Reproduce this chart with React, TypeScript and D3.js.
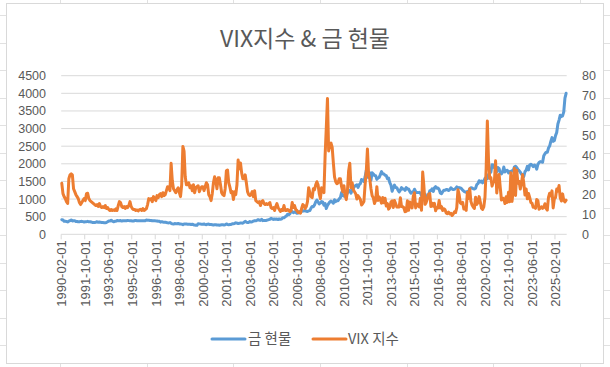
import React from "react";
import * as d3 from "d3";

const xTickLabels = [
  "1990-02-01", "1991-10-01", "1993-06-01", "1995-02-01", "1996-10-01", "1998-06-01",
  "2000-02-01", "2001-10-01", "2003-06-01", "2005-02-01", "2006-10-01", "2008-06-01",
  "2010-02-01", "2011-10-01", "2013-06-01", "2015-02-01", "2016-10-01", "2018-06-01",
  "2020-02-01", "2021-10-01", "2023-06-01", "2025-02-01",
];
const leftTicks = [0, 500, 1000, 1500, 2000, 2500, 3000, 3500, 4000, 4500];
const rightTicks = [0, 10, 20, 30, 40, 50, 60, 70, 80];

// Gold spot (USD/oz), monthly from 1990-02
const gold1990s = [
  415, 407, 368, 368, 363, 352, 372, 387, 408, 380, 385,
  386, 366, 363, 355, 357, 366, 368, 359, 348, 355, 359, 367,
  353, 355, 347, 338, 336, 337, 343, 357, 340, 349, 339, 334,
  332, 330, 330, 337, 355, 377, 378, 401, 372, 355, 369, 372,
  391, 383, 381, 390, 376, 384, 386, 385, 385, 394, 388, 383,
  382, 376, 376, 390, 389, 385, 387, 384, 383, 384, 383, 388,
  387, 405, 400, 398, 392, 391, 382, 385, 387, 380, 379, 372,
  369, 345, 359, 348, 340, 345, 334, 326, 324, 332, 311, 296,
  289, 304, 298, 301, 308, 293, 295, 288, 274, 294, 292, 294,
  288, 286, 287, 280, 286, 272, 261, 255, 255, 300, 296, 290,
];
const gold2000s = [
  288, 283, 293, 278, 274, 288, 289, 276, 278, 273, 265, 271,
  272, 265, 267, 257, 265, 271, 270, 265, 272, 293, 279, 274,
  279, 281, 297, 301, 308, 325, 318, 304, 312, 323, 318, 317,
  343, 367, 347, 334, 337, 363, 347, 354, 375, 385, 385, 398,
  416, 400, 395, 426, 388, 393, 395, 391, 407, 416, 427, 453,
  438, 421, 434, 427, 435, 417, 437, 429, 433, 473, 470, 495,
  517, 568, 556, 582, 654, 642, 613, 632, 624, 599, 603, 646,
  632, 649, 672, 662, 679, 655, 648, 665, 673, 743, 789, 783,
  834, 923, 971, 916, 863, 886, 930, 913, 829, 874, 730, 816,
  869, 919, 942, 916, 883, 980, 928, 955, 955, 1007, 1040, 1183,
];
const gold2010s = [
  1096, 1083, 1118, 1113, 1180, 1215, 1244, 1169, 1250, 1309, 1359, 1385,
  1405, 1332, 1411, 1439, 1556, 1536, 1500, 1628, 1813, 1620, 1724, 1746,
  1531, 1744, 1710, 1668, 1663, 1558, 1598, 1614, 1692, 1777, 1719, 1711,
  1675, 1664, 1578, 1596, 1467, 1394, 1223, 1312, 1395, 1327, 1324, 1250,
  1202, 1251, 1326, 1283, 1288, 1246, 1327, 1282, 1287, 1217, 1164, 1200,
  1200, 1279, 1213, 1183, 1183, 1190, 1172, 1095, 1134, 1114, 1142, 1065,
  1061, 1118, 1234, 1232, 1293, 1215, 1320, 1351, 1309, 1313, 1272, 1173,
  1151, 1210, 1248, 1249, 1268, 1268, 1242, 1269, 1322, 1283, 1270, 1275,
  1303, 1345, 1317, 1325, 1315, 1298, 1253, 1224, 1202, 1191, 1215, 1222,
  1281, 1321, 1313, 1292, 1284, 1305, 1409, 1437, 1520, 1485, 1511, 1461,
];
const gold2020s = [
  1517, 1587, 1609, 1577, 1694, 1730, 1768, 1975, 1967, 1886, 1879, 1776,
  1895, 1863, 1743, 1715, 1769, 1910, 1770, 1812, 1814, 1743, 1785, 1777,
  1806, 1797, 1911, 1932, 1896, 1838, 1806, 1765, 1711, 1665, 1640, 1775,
  1820, 1928, 1827, 1969, 1990, 1962, 1920, 1965, 1939, 1849, 1985, 2038,
  2063, 2055, 2044, 2229, 2286, 2327, 2326, 2447, 2503, 2635, 2744, 2636,
  2660, 2800, 2890, 3130, 3240, 3380, 3340, 3360, 3476, 3866, 4000,
];

// VIX index, monthly from 1990-02
const vix1990s = [
  25.7, 20.5, 19, 18, 16.5, 15.6, 28, 30, 30.5, 30, 23,
  21.5, 20, 19, 18, 16, 15, 16, 17, 18, 17, 20.5, 20.7,
  18, 17, 16.5, 16, 15.5, 15, 14.5, 15, 14, 15.5, 14, 13.5,
  14, 13.5, 14.5, 13, 13.5, 12.5, 12, 12.5, 12, 12.3, 12, 12.8,
  12, 14.5, 16.5, 16, 14, 13.5, 14, 13, 14, 13.5, 14.5, 16.5,
  14, 13, 12.5, 12.5, 12, 12.3, 11.8, 12.4, 12.6, 12, 13, 12,
  12.5, 13, 15, 18, 17.5, 18, 16.5, 19, 18, 17, 19.5, 18.5,
  20, 20.5, 19, 21, 19.5, 20, 22, 24, 23.5, 22, 35.8, 27,
  23, 22, 21, 22.5, 23.5, 21, 19, 25, 44.3, 42, 29, 25,
  25, 26, 23.5, 24.5, 22, 25, 21, 23.5, 24, 24.5, 21.5, 23,
];
const vix2000s = [
  24, 24, 22, 24, 26, 25, 20, 19, 17, 20.5, 26, 29,
  27, 23, 28.5, 28.5, 25, 21, 20, 19.5, 23, 32, 32.4, 26,
  23.8, 21, 21.5, 17.5, 21.5, 20, 25, 37.5, 33, 36, 31, 28,
  28, 30, 26, 21.5, 20, 19.5, 20, 21.5, 19, 22, 17, 16.5,
  16, 16.5, 14.5, 16.5, 17, 15.5, 15, 15.5, 15, 15.5, 16, 13.5,
  13, 13.5, 12, 14, 15.5, 13.5, 12.5, 11.5, 12.5, 12, 14.5, 12,
  12, 12.5, 12, 11.5, 12, 16, 13.5, 14.5, 12.5, 12, 11, 11,
  10.6, 13, 15, 14.5, 13, 14, 16.5, 23.5, 21, 19, 18.5, 23,
  22.5, 25, 26.5, 25, 20.5, 18, 23.5, 22.5, 21, 39.8, 53.7, 68.5,
  42, 45, 46, 44, 36, 29, 26.5, 25.5, 26, 28, 28, 24,
];
const vix2010s = [
  21.5, 24.5, 19.5, 17.5, 22, 32, 35.8, 23.5, 26, 22.5, 21.5, 20.5,
  17.8, 19.5, 18.5, 17.5, 14.8, 15.5, 16.5, 25, 31.6, 43, 30, 27.8,
  23, 19.4, 18.4, 15.5, 17.1, 24, 17.1, 18.9, 17.5, 15.7, 18.6, 15.9,
  18.2, 14.3, 15.5, 12.7, 13.5, 16.3, 16.9, 13.5, 17, 15.5, 13.8, 13.7,
  13.8, 18.4, 14, 13.9, 13.4, 11.4, 11.6, 16.9, 12.1, 16.3, 14, 13.3,
  19.2, 21, 13.3, 15.3, 14.6, 13.8, 18.2, 12.1, 31.4, 24.5, 15.1, 16.1,
  18.2, 20.2, 20.5, 14, 15.7, 14.2, 15.6, 11.9, 13.4, 13.3, 17.1, 13.3,
  14, 12, 12.9, 12.4, 10.8, 10.4, 11.2, 10.3, 10.6, 9.5, 10.2, 11.3,
  11, 13.5, 22.5, 20, 15.9, 15.4, 16.1, 12.8, 12.9, 12.1, 21.2, 18.1,
  23, 16.6, 14.8, 13.7, 13.1, 18.7, 15.1, 16.1, 19, 16.2, 13.2, 12.6,
];
const vix2020s = [
  13.8, 18.8, 33.4, 57.1, 37.2, 28.2, 28.6, 24.3, 26.1, 26.7, 37.1, 20.8,
  27, 30.2, 23.4, 17.3, 18.3, 17.9, 15.5, 18.9, 16.1, 21.2, 16.4, 31.1,
  16.6, 22, 33.3, 19.6, 32.3, 25.7, 26.7, 22.8, 25.6, 30.1, 25.8, 19.8,
  22.9, 17.9, 20.6, 18.6, 16.1, 15.7, 13.6, 13.9, 13.1, 17.6, 16.9, 12.6,
  13.2, 13.9, 13.1, 13.7, 15.4, 13.1, 12.2, 18.6, 20.7, 19.3, 21.9, 13.3,
  17.9, 18.6, 22.8, 21.8, 24.6, 18.4, 16.8, 20.4, 17.2, 16.3, 17.2,
];

const goldValues = [...gold1990s, ...gold2000s, ...gold2010s, ...gold2020s];
const vixValues = [...vix1990s, ...vix2000s, ...vix2010s, ...vix2020s];

const TEXT = "#595959";
const GRID = "#d9d9d9";
const BLUE = "#5B9BD5";
const ORANGE = "#ED7D31";
const NUM_FONT = "'Liberation Sans', Arial, sans-serif";
const KR_FONT = "'Noto Sans CJK KR', 'Noto Sans', sans-serif";

export default function App() {
  const W = 610;
  const H = 367;
  const n = goldValues.length;
  const plotL = 61.2;
  const plotR = 566.7;
  const plotT = 75.7;
  const plotB = 234.3;

  const x = d3.scaleLinear().domain([0, n]).range([plotL, plotR]);
  const yL = d3.scaleLinear().domain([0, 4500]).range([plotB, plotT]);
  const yR = d3.scaleLinear().domain([0, 80]).range([plotB, plotT]);

  const goldLine = d3
    .line<number>()
    .x((_, i) => x(i + 0.5))
    .y((d) => yL(d))
    .curve(d3.curveLinear);
  const vixLine = d3
    .line<number>()
    .x((_, i) => x(i + 0.5))
    .y((d) => yR(d))
    .curve(d3.curveLinear);

  const sheetCols = [60, 147, 233, 320, 407, 493, 580];
  const sheetRows = [15, 43, 70, 98, 125, 153, 180, 208, 235, 263, 290, 318, 345];

  const tickIdx = xTickLabels.map((_, k) => k * 20);

  return (
    <svg
      width={W}
      height={H}
      style={{ position: "absolute", left: 0, top: 0, background: "#fff" }}
    >
      {sheetCols.map((c) => (
        <line key={"c" + c} x1={c + 0.5} x2={c + 0.5} y1={0} y2={H} stroke="#e1e1e1" />
      ))}
      {sheetRows.map((r) => (
        <line key={"r" + r} x1={0} x2={W} y1={r + 0.5} y2={r + 0.5} stroke="#e1e1e1" />
      ))}
      <rect x={6.5} y={3.5} width={597} height={360} fill="#fff" stroke={GRID} />

      <text
        x={305}
        y={47}
        textAnchor="middle"
        fill={TEXT}
        fontFamily={KR_FONT}
        fontSize={23}
      >
        VIX지수 &amp; 금 현물
      </text>

      {leftTicks.slice(1).map((t) => (
        <line
          key={"g" + t}
          x1={plotL}
          x2={plotR}
          y1={yL(t)}
          y2={yL(t)}
          stroke={GRID}
          strokeWidth={1}
        />
      ))}
      <line x1={plotL} x2={plotR} y1={plotB} y2={plotB} stroke={GRID} strokeWidth={1} />
      {tickIdx.map((i) => (
        <line
          key={"t" + i}
          x1={x(i)}
          x2={x(i)}
          y1={plotB}
          y2={plotB + 5}
          stroke={GRID}
          strokeWidth={1}
        />
      ))}

      {leftTicks.map((t) => (
        <text
          key={"l" + t}
          x={46}
          y={yL(t)}
          dy="0.36em"
          textAnchor="end"
          fill={TEXT}
          fontFamily={NUM_FONT}
          fontSize={12.5}
        >
          {t}
        </text>
      ))}
      {rightTicks.map((t) => (
        <text
          key={"r" + t}
          x={582}
          y={yR(t)}
          dy="0.36em"
          textAnchor="start"
          fill={TEXT}
          fontFamily={NUM_FONT}
          fontSize={12.5}
        >
          {t}
        </text>
      ))}
      {xTickLabels.map((lab, k) => (
        <text
          key={lab}
          transform={`translate(${x(tickIdx[k] + 0.5)},${plotB + 6}) rotate(-90)`}
          dy="0.36em"
          textAnchor="end"
          fill={TEXT}
          fontFamily={NUM_FONT}
          fontSize={13}
        >
          {lab}
        </text>
      ))}

      <path
        d={goldLine(goldValues) || ""}
        fill="none"
        stroke={BLUE}
        strokeWidth={3}
        strokeLinejoin="round"
        strokeLinecap="round"
      />
      <path
        d={vixLine(vixValues) || ""}
        fill="none"
        stroke={ORANGE}
        strokeWidth={3}
        strokeLinejoin="round"
        strokeLinecap="round"
      />

      <line x1={212} x2={245} y1={339} y2={339} stroke={BLUE} strokeWidth={3} strokeLinecap="round" />
      <text x={248} y={339} dy="0.36em" fill={TEXT} fontFamily={KR_FONT} fontSize={14.5}>
        금 현물
      </text>
      <line x1={313} x2={346} y1={339} y2={339} stroke={ORANGE} strokeWidth={3} strokeLinecap="round" />
      <text x={348} y={339} dy="0.36em" fill={TEXT} fontFamily={KR_FONT} fontSize={14.5}>
        VIX 지수
      </text>
    </svg>
  );
}
